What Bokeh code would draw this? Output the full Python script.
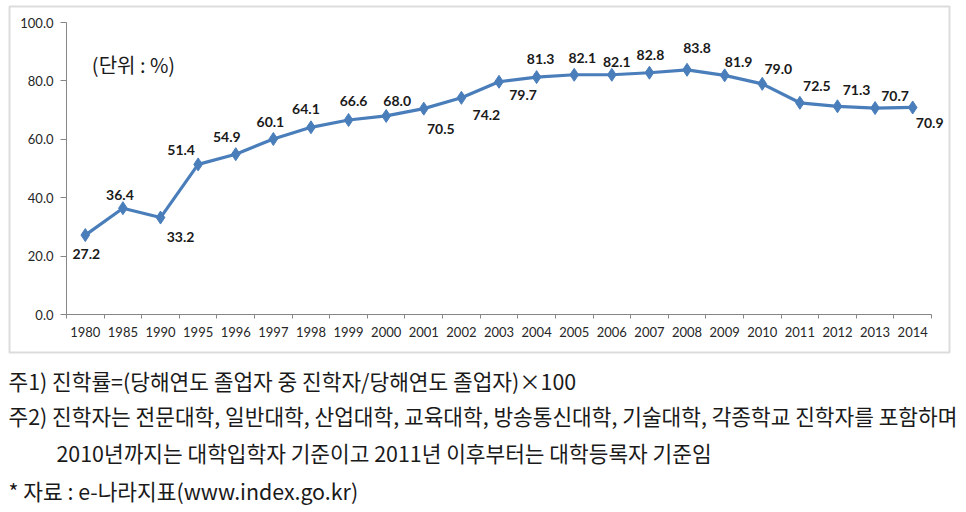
from bokeh.plotting import figure
from bokeh.models import (ColumnDataSource, FixedTicker, PrintfTickFormatter, Range1d,
                          Label, BoxAnnotation, LinearAxis)
from bokeh.core.properties import value
from bokeh.embed import file_html
from bokeh.resources import INLINE

# ---- data ----
years = ["1980", "1985", "1990", "1995", "1996", "1997", "1998", "1999", "2000", "2001",
         "2002", "2003", "2004", "2005", "2006", "2007", "2008", "2009", "2010", "2011",
         "2012", "2013", "2014"]
rates = [27.2, 36.4, 33.2, 51.4, 54.9, 60.1, 64.1, 66.6, 68.0, 70.5,
         74.2, 79.7, 81.3, 82.1, 82.1, 82.8, 83.8, 81.9, 79.0, 72.5,
         71.3, 70.7, 70.9]
y_ticks = [0, 20, 40, 60, 80, 100]
unit_label = "(단위 : %)"
notes = [
    "주1) 진학률=(당해연도 졸업자 중 진학자/당해연도 졸업자)×100",
    "주2) 진학자는 전문대학, 일반대학, 산업대학, 교육대학, 방송통신대학, 기술대학, 각종학교 진학자를 포함하며",
    "2010년까지는 대학입학자 기준이고 2011년 이후부터는 대학등록자 기준임",
    "* 자료 : e-나라지표(www.index.go.kr)",
]

# label placement (screen pixel offsets from each point, y positive = down)
label_dx = [1, -3, 20, -17, -9, -3, -5, 5, 11, 17, 25, 24, 4, 8, 5, 1, 10, 14, 16, 17, 19, 20, 17]
label_dy = [19, -13, 19, -14, -17, -17, -18, -19, -15, 20, 17, 13, -18, -17, -13, -18, -22, -13, -15, -17, -16, -12, 16]

n = len(years)
idx = list(range(n))
src = ColumnDataSource(dict(
    x=idx, y=rates, lab=[f"{v:.1f}" for v in rates], dx=label_dx, dy=label_dy))

# ---- layout: the frame covers the whole canvas; the plot area sits inside it ----
W, H = 960, 510
PL, PR, PT, PB = 66, 931, 22, 314          # plot-area edges in pixels
Y0, Y1 = 0, 100
cw = (PR - PL) / n                         # px per category
ky = (PB - PT) / (Y1 - Y0)                 # px per unit
x_range = Range1d(-0.5 - PL / cw, -0.5 + (W - PL) / cw)
y_range = Range1d(Y0 - (H - PB) / ky, Y1 + PT / ky)

p = figure(width=W, height=H, output_backend="svg", toolbar_location=None,
           x_range=x_range, y_range=y_range,
           x_axis_location=None, y_axis_location=None,
           min_border_left=0, min_border_right=0, min_border_top=0, min_border_bottom=0)
p.outline_line_color = None
p.xgrid.visible = False
p.ygrid.visible = False
p.background_fill_color = "white"
p.border_fill_color = "white"

axis_col = "#868686"
tick_font = "Lato"
tick_col = "#262626"

xa = LinearAxis(fixed_location=Y0, bounds=(-0.5, n - 0.5))
xa.ticker = FixedTicker(ticks=idx, minor_ticks=[i - 0.5 for i in range(n + 1)])
xa.major_label_overrides = {i: y for i, y in zip(idx, years)}
xa.major_tick_out = 0
xa.major_tick_in = 0
xa.minor_tick_out = 4
xa.minor_tick_in = 0
xa.minor_tick_line_color = axis_col
xa.axis_line_color = axis_col
xa.major_label_standoff = 8
xa.major_label_text_font = tick_font
xa.major_label_text_font_size = "13px"
xa.major_label_text_color = tick_col
p.add_layout(xa, "below")

ya = LinearAxis(fixed_location=-0.5, bounds=(Y0, Y1))
ya.ticker = FixedTicker(ticks=y_ticks, minor_ticks=[])
ya.formatter = PrintfTickFormatter(format="%.1f")
ya.major_tick_out = 6
ya.major_tick_in = 0
ya.minor_tick_out = 0
ya.minor_tick_in = 0
ya.major_tick_line_color = axis_col
ya.axis_line_color = axis_col
ya.major_label_standoff = 7
ya.major_label_text_font = tick_font
ya.major_label_text_font_size = "13px"
ya.major_label_text_color = tick_col
p.add_layout(ya, "left")

blue = "#4A7EBB"
p.line("x", "y", source=src, line_color=blue, line_width=3.2)
p.scatter("x", "y", source=src, marker="diamond", size=13, fill_color=blue, line_color=blue)
p.text("x", "y", text="lab", source=src, x_offset="dx", y_offset="dy",
       text_align="center", text_baseline="middle", text_font=value("Lato"),
       text_font_style="bold", text_font_size="14px", text_color="#1a1a1a")

# screen units here are relative to the frame (= whole canvas), y measured up from bottom
def sx(x):
    return x

def sy(y):
    return H - y

# outer chart box
p.add_layout(BoxAnnotation(left=sx(9), right=sx(949), top=sy(6), bottom=sy(352),
                           left_units="screen", right_units="screen",
                           top_units="screen", bottom_units="screen",
                           fill_color=None, line_color="#8a8a8a", line_width=2))

p.add_layout(Label(x=sx(133), y=sy(64), x_units="screen", y_units="screen", text=unit_label,
                   text_align="center", text_baseline="middle",
                   text_font="Noto Sans CJK KR", text_font_size="20px", text_color="#1a1a1a"))

note_x = [8, 8, 56, 8]
note_y = [380, 415, 452, 490]
for t, nx, ny in zip(notes, note_x, note_y):
    p.add_layout(Label(x=sx(nx), y=sy(ny), x_units="screen", y_units="screen", text=t,
                       text_align="left", text_baseline="middle",
                       text_font="Noto Sans CJK KR", text_font_size="21.4px",
                       text_color="#1a1a1a"))

open("out.html", "w").write(file_html(p, INLINE))
